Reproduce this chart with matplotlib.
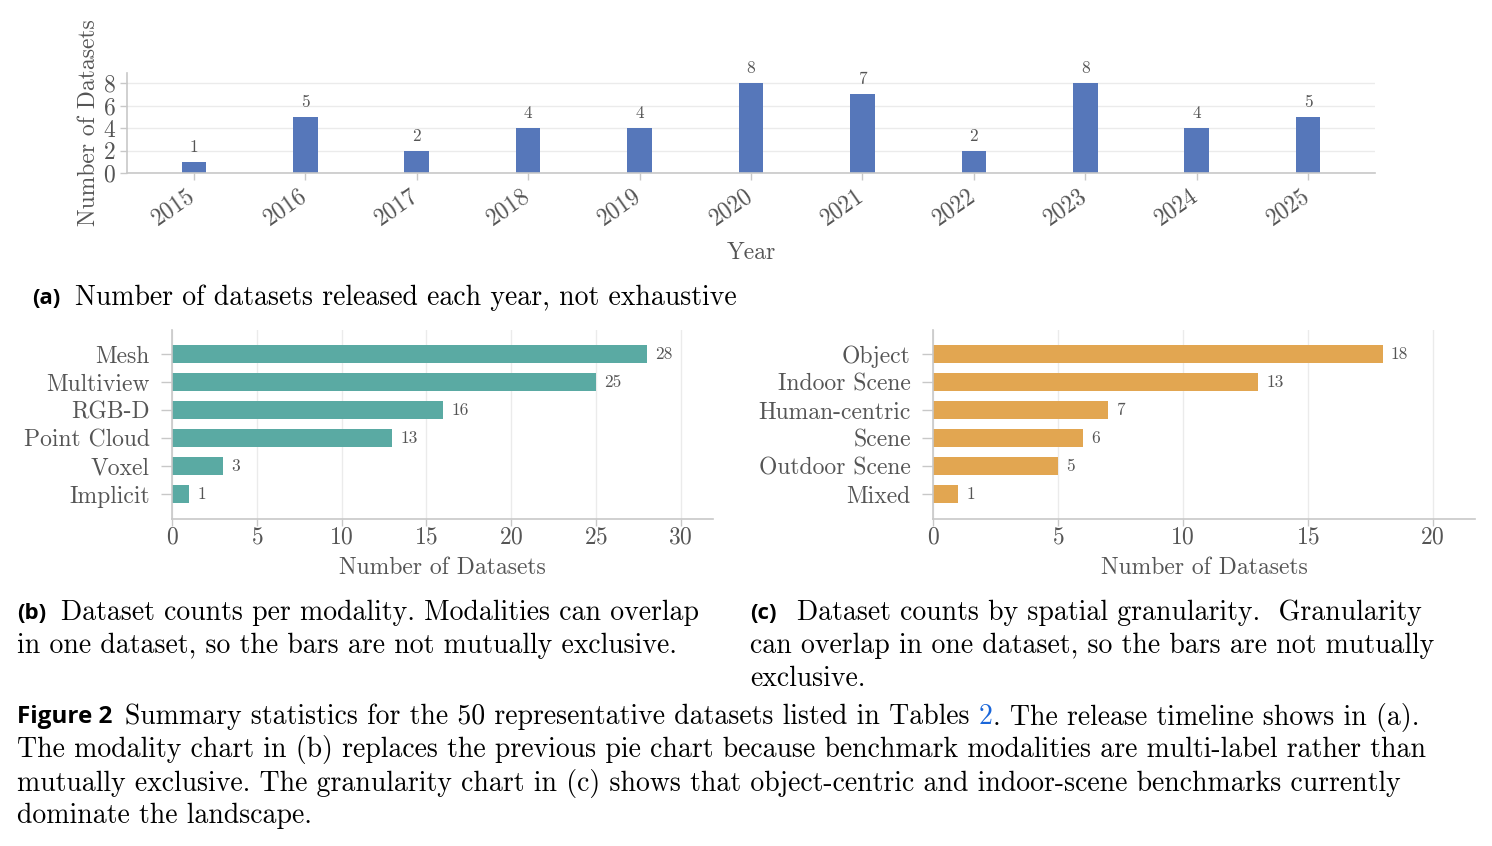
import matplotlib

matplotlib.use("Agg")
import matplotlib.pyplot as plt
from matplotlib.transforms import ScaledTranslation

# data
years = ["2015", "2016", "2017", "2018", "2019", "2020", "2021", "2022", "2023", "2024", "2025"]
year_counts = [1, 5, 2, 4, 4, 8, 7, 2, 8, 4, 5]

modalities = ["Mesh", "Multiview", "RGB-D", "Point Cloud", "Voxel", "Implicit"]
modality_counts = [28, 25, 16, 13, 3, 1]

granularity = ["Object", "Indoor Scene", "Human-centric", "Scene", "Outdoor Scene", "Mixed"]
granularity_counts = [18, 13, 7, 6, 5, 1]

W, H = 1492, 846
SERIF = "cmr10"
LABEL = "Open Sans"
TXT = "#555555"
SPINE = "#c8c8c8"
GRID = "#ebebeb"
CAP = 20

plt.rcParams["font.family"] = [SERIF, "DejaVu Serif"]
plt.rcParams["axes.formatter.use_mathtext"] = True

fig = plt.figure(figsize=(W / 100, H / 100), dpi=100)


def px_axes(left, top, right, bottom):
    return fig.add_axes([left / W, 1 - bottom / H, (right - left) / W, (bottom - top) / H])


def style(ax, grid_axis):
    for side in ("top", "right"):
        ax.spines[side].set_visible(False)
    for side in ("left", "bottom"):
        ax.spines[side].set_color(SPINE)
        ax.spines[side].set_linewidth(1.2)
    ax.tick_params(colors=SPINE, labelcolor=TXT, length=5, width=1.0, labelsize=17, pad=3)
    ax.grid(axis=grid_axis, color=GRID, linewidth=1.0)
    ax.set_axisbelow(True)


# (a) timeline
ax = px_axes(127, 73, 1375, 173)
xs = range(len(years))
ax.bar(xs, year_counts, width=0.22, color="#5677ba")
for x, v in zip(xs, year_counts):
    ax.annotate(str(v), (x, v), xytext=(0, 5), textcoords="offset points",
                ha="center", va="bottom", fontsize=12.5, color=TXT)
ax.set_xlim(-0.6, len(years) - 0.4)
ax.set_ylim(0, 8.9)
ax.set_yticks([0, 2, 4, 6, 8])
ax.set_xticks(list(xs))
ax.set_xticklabels(years, rotation=35, ha="right", rotation_mode="anchor")
style(ax, "y")
shift = ScaledTranslation(-7 / 100, 0, fig.dpi_scale_trans)
for lbl in ax.get_xticklabels():
    lbl.set_transform(lbl.get_transform() + shift)
ax.set_xlabel("Year", fontsize=17, color=TXT, labelpad=9)
ax.set_ylabel("Number of Datasets", fontsize=17, color=TXT, labelpad=2)


def hbars(ax, labels, counts, color, xmax, ticks):
    ys = range(len(labels))
    ax.barh(ys, counts, height=0.65, color=color)
    for y, v in zip(ys, counts):
        ax.annotate(str(v), (v, y), xytext=(6, 0), textcoords="offset points",
                    ha="left", va="center", fontsize=12.5, color=TXT)
    ax.set_yticks(list(ys))
    ax.set_yticklabels(labels)
    ax.set_ylim(5.88, -0.86)
    ax.set_xlim(0, xmax)
    ax.set_xticks(ticks)
    style(ax, "x")
    ax.tick_params(axis="y", length=8, pad=8)
    ax.tick_params(axis="x", pad=0)
    ax.set_xlabel("Number of Datasets", fontsize=17, color=TXT, labelpad=6)


hbars(px_axes(172, 330, 713, 519), modalities, modality_counts, "#5aaaa3", 31.9, [0, 5, 10, 15, 20, 25, 30])
hbars(px_axes(933, 330, 1475, 519), granularity, granularity_counts, "#e2a651", 21.7, [0, 5, 10, 15, 20])


def ftext(x, y, s, **kw):
    kw.setdefault("fontsize", CAP)
    kw.setdefault("color", "black")
    return fig.text(x / W, 1 - y / H, s, va="center", ha="left", **kw)


def label(x, y, s, size=16):
    ftext(x, y, s, family=LABEL, weight="bold", fontsize=size)


label(32, 298, "(a)")
ftext(75, 298, "Number of datasets released each year, not exhaustive")

label(17, 613, "(b)")
ftext(61, 613, "Dataset counts per modality. Modalities can overlap")
ftext(17, 646, "in one dataset, so the bars are not mutually exclusive.")

label(750, 613, "(c)")
ftext(797, 613, "Dataset counts by spatial granularity.  Granularity")
ftext(750, 646, "can overlap in one dataset, so the bars are not mutually")
ftext(750, 679, "exclusive.")

label(17, 717, "Figure 2", size=17.5)
fig.canvas.draw()
renderer = fig.canvas.get_renderer()
t1 = ftext(125, 717, "Summary statistics for the 50 representative datasets listed in Tables ")
x_end = t1.get_window_extent(renderer).x1
t2 = fig.text(x_end / W, 1 - 717 / H, "2", va="center", ha="left", fontsize=CAP, color="#1a66d9")
x_end = t2.get_window_extent(renderer).x1
fig.text(x_end / W, 1 - 717 / H, ". The release timeline shows in (a).", va="center", ha="left",
         fontsize=CAP, color="black")
ftext(17, 750, "The modality chart in (b) replaces the previous pie chart because benchmark modalities are multi-label rather than")
ftext(17, 783, "mutually exclusive. The granularity chart in (c) shows that object-centric and indoor-scene benchmarks currently")
ftext(17, 816, "dominate the landscape.")

fig.savefig("out.png", dpi=100)
